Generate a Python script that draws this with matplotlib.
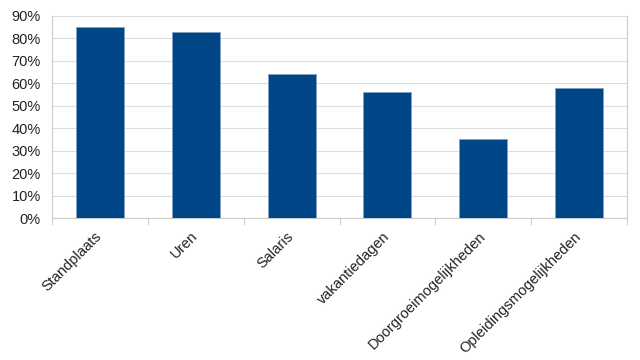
import numpy as np
import matplotlib
matplotlib.use("Agg")
import matplotlib.pyplot as plt
import matplotlib.transforms as mtransforms
from matplotlib.ticker import FuncFormatter, MultipleLocator

categories = ["Standplaats", "Uren", "Salaris", "vakantiedagen",
              "Doorgroeimogelijkheden", "Opleidingsmogelijkheden"]
values = [85, 83, 64, 56, 35, 58]

plt.rcParams['font.family'] = ['Liberation Sans', 'DejaVu Sans']

fig = plt.figure(figsize=(6.4, 3.6), dpi=100)
ax = fig.add_axes([0.081, 0.394, 0.899, 0.562])

x = np.arange(len(categories))
ax.bar(x, values, width=0.5, color='#004586', edgecolor='#7fa2c3', linewidth=0.6, zorder=3)

ax.set_xlim(-0.5, len(categories) - 0.5)
ax.set_ylim(0, 90)
ax.yaxis.set_major_locator(MultipleLocator(10))
ax.yaxis.set_major_formatter(FuncFormatter(lambda v, p: "{:.0f}%".format(v)))
ax.grid(axis='y', color='#dddddd', linewidth=0.8, zorder=0)

# category labels on the major ticks, boundary marks as minor ticks
ax.set_xticks(x)
ax.set_xticklabels(categories, rotation=45, ha='right', rotation_mode='anchor')
ax.set_xticks(np.arange(len(categories) + 1) - 0.5, minor=True)
ax.tick_params(axis='x', which='major', length=0, pad=8, labelsize=10.5, colors='#222222')
ax.tick_params(axis='x', which='minor', length=5, color='#cccccc', width=0.8)
ax.tick_params(axis='y', length=0, labelsize=10.5, pad=8, colors='#222222')

# nudge the rotated labels a little to the left
shift = mtransforms.ScaledTranslation(-5 / 100, 0, fig.dpi_scale_trans)
for lab in ax.get_xticklabels():
    lab.set_transform(lab.get_transform() + shift)

for side in ['left', 'right', 'bottom']:
    ax.spines[side].set_color('#cccccc')
    ax.spines[side].set_linewidth(0.8)
ax.spines['top'].set_visible(False)

fig.savefig("out.png", dpi=100)
